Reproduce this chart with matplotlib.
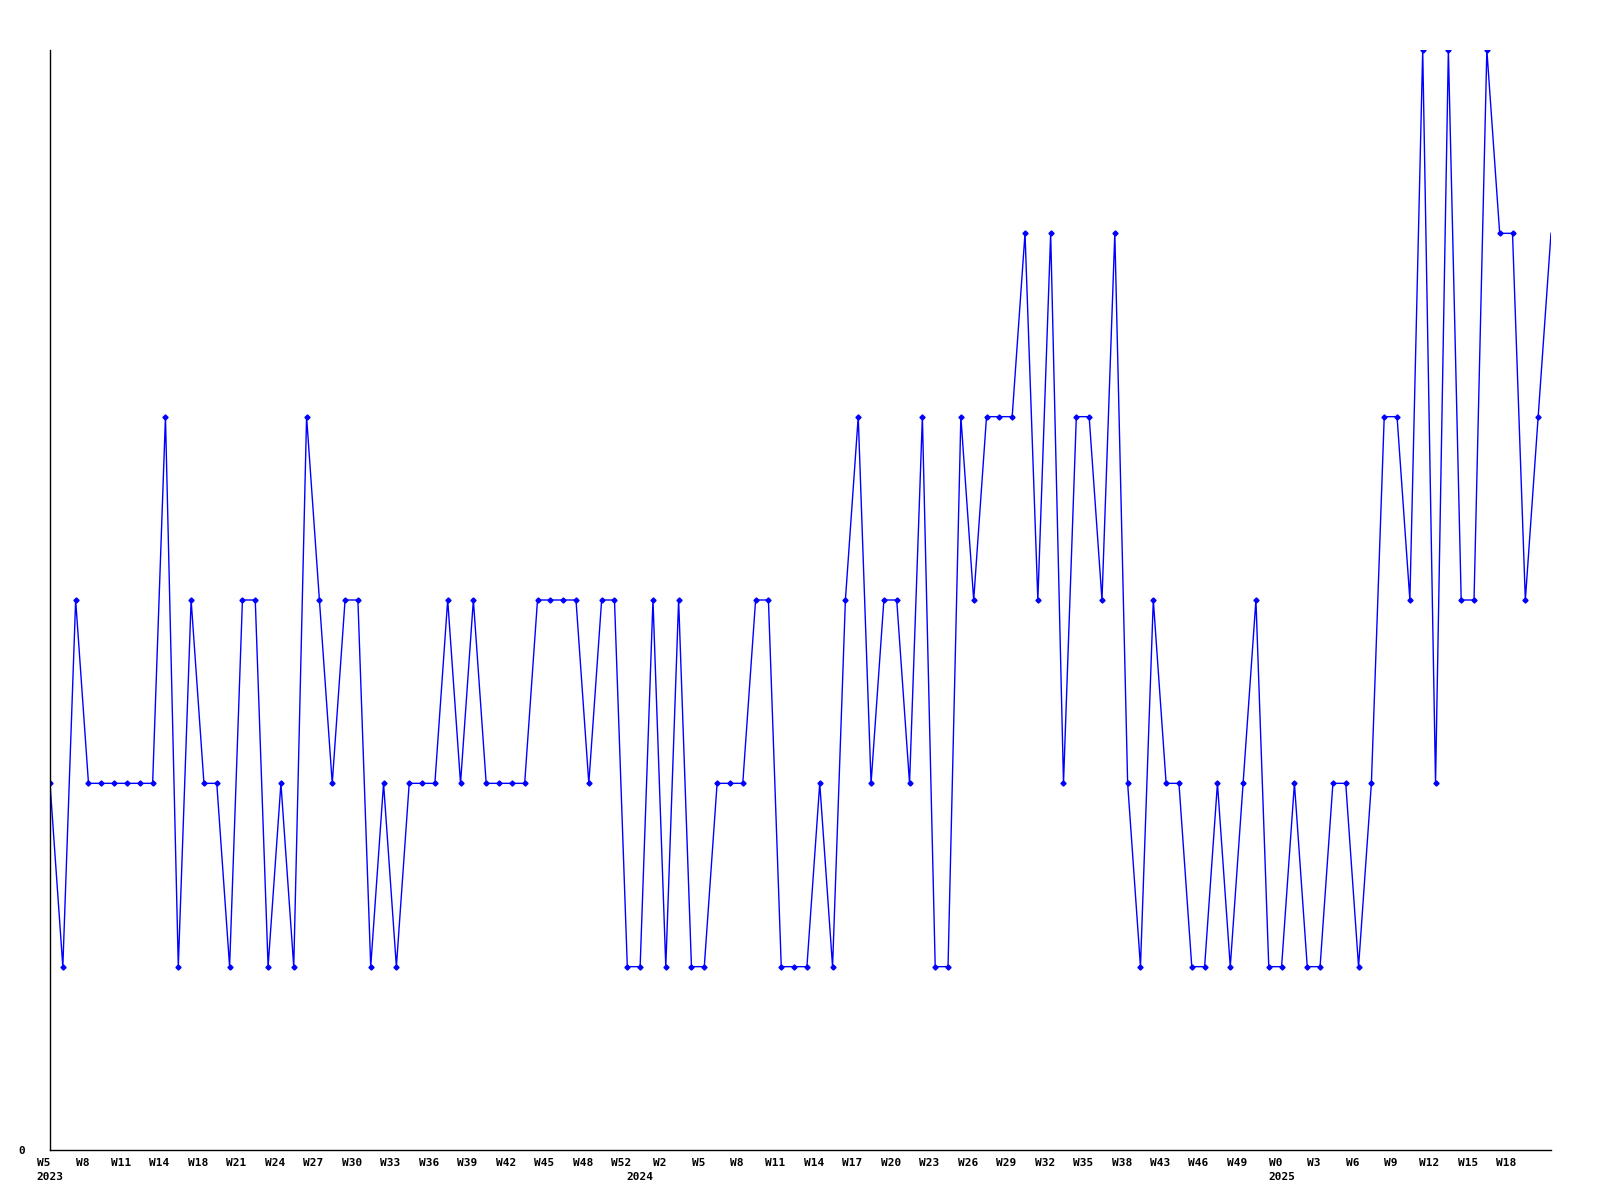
import matplotlib
matplotlib.use('Agg')
import matplotlib.pyplot as plt
import matplotlib.transforms as mtransforms

# weekly values
values = [2, 1, 3, 2, 2, 2, 2, 2, 2, 4, 1, 3, 2, 2, 1, 3, 3, 1, 2, 1,
          4, 3, 2, 3, 3, 1, 2, 1, 2, 2, 2, 3, 2, 3, 2, 2, 2, 2, 3, 3,
          3, 3, 2, 3, 3, 1, 1, 3, 1, 3, 1, 1, 2, 2, 2, 3, 3, 1, 1, 1,
          2, 1, 3, 4, 2, 3, 3, 2, 4, 1, 1, 4, 3, 4, 4, 4, 5, 3, 5, 2,
          4, 4, 3, 5, 2, 1, 3, 2, 2, 1, 1, 2, 1, 2, 3, 1, 1, 2, 1, 1,
          2, 2, 1, 2, 4, 4, 3, 6, 2, 6, 3, 3, 6, 5, 5, 3, 4, 5]

# every third week gets a label
week_labels = ['W5', 'W8', 'W11', 'W14', 'W18', 'W21', 'W24', 'W27', 'W30', 'W33',
               'W36', 'W39', 'W42', 'W45', 'W48', 'W52', 'W2', 'W5', 'W8', 'W11',
               'W14', 'W17', 'W20', 'W23', 'W26', 'W29', 'W32', 'W35', 'W38', 'W43',
               'W46', 'W49', 'W0', 'W3', 'W6', 'W9', 'W12', 'W15', 'W18']
years = ['2023', '2024', '2025']
year_pos = [0, 46, 96]

x = list(range(len(values)))
font = dict(family='DejaVu Sans Mono', weight='bold', size=8)

fig = plt.figure(figsize=(16, 12), dpi=100)
ax = fig.add_axes([50 / 1600, 50 / 1200, 1501 / 1600, 1100 / 1200])

ax.plot(x, values, color='#0000ff', lw=1.0, marker='D', ms=2.6,
        markevery=list(range(len(values) - 1)))

ax.set_xlim(0, len(values) - 1)
ax.set_ylim(0, 6)

ax.spines['top'].set_visible(False)
ax.spines['right'].set_visible(False)
ax.spines['left'].set_linewidth(1)
ax.spines['bottom'].set_linewidth(1)

ax.set_xticks(x[:len(week_labels) * 3:3])
ax.set_xticklabels(week_labels, **font)
ax.set_yticks([0])
ax.set_yticklabels(['0'], **font)
ax.tick_params(axis='x', length=0, pad=6)
ax.tick_params(axis='y', length=0, pad=18)

# week labels sit a little left of their points in the original
shift = mtransforms.ScaledTranslation(-6 / 100, 0, fig.dpi_scale_trans)
for lab in ax.get_xticklabels():
    lab.set_transform(lab.get_transform() + shift)

for yr, pos in zip(years, year_pos):
    ax.annotate(yr, xy=(pos, 0), xycoords=('data', 'axes fraction'),
                xytext=(0, -27), textcoords='offset pixels',
                ha='center', va='center', **font)

fig.savefig('out.png', dpi=100)
